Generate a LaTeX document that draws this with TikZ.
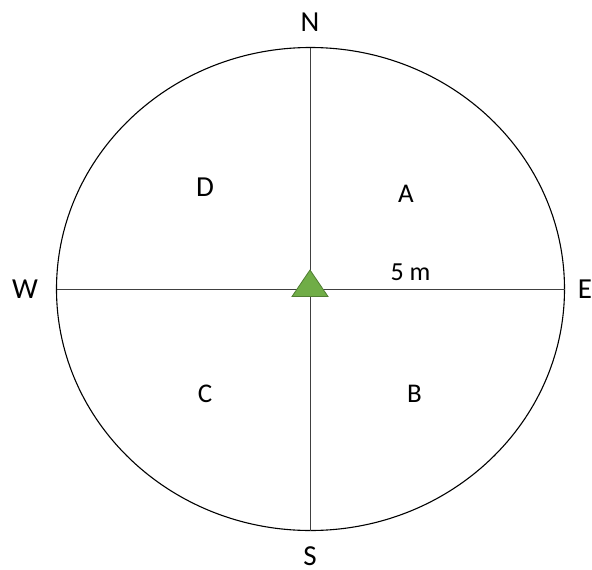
\documentclass[tikz,border=0pt]{standalone}
\usepackage{fontspec}
\setmainfont{Carlito}
\usepackage{xcolor}
\definecolor{marca}{HTML}{70AD47}
\definecolor{marcaborde}{HTML}{507E32}
\tikzset{
  rumbo/.style={font=\fontsize{29}{32}\selectfont,text=black,inner sep=0pt},
  zona/.style={font=\fontsize{27}{30}\selectfont,text=black,inner sep=0pt},
  radio/.style={black!75,line width=0.8pt},
  marco/.style={black,line width=1.1pt},
  tri/.style={fill=marca,draw=marcaborde,line width=0.8pt,line join=miter}
}
\begin{document}
\begin{tikzpicture}[x=1pt,y=-1pt]
\useasboundingbox (0,0) rectangle (592,570);
\draw[marco] (310.5,289) ellipse (254 and 241.5);
\coordinate (n) at (310.5,47.5);
\coordinate (s) at (310.5,530.5);
\coordinate (w) at (56.5,289);
\coordinate (e) at (564.5,289);
\draw[radio] (n) -- (s);
\draw[radio] (w) -- (e);
\coordinate (punta) at (310,270);
\coordinate (izq) at (292,296.5);
\coordinate (der) at (328,296.5);
\draw[tri] (punta) -- (izq) -- (der) -- cycle;
\node[rumbo] (norte) at (310,22) {N};
\node[rumbo] (sur) at (310,556) {S};
\node[rumbo] (oeste) at (25,289) {W};
\node[rumbo] (este) at (585,289) {E};
\node[zona] (a) at (406,194) {A};
\node[zona] (b) at (414.5,394) {B};
\node[zona] (c) at (205,394) {C};
\node[rumbo] (d) at (205,187) {D};
\node[zona,font=\fontsize{26}{29}\selectfont] (dist) at (410.5,272) {5 m};
\end{tikzpicture}
\end{document}
